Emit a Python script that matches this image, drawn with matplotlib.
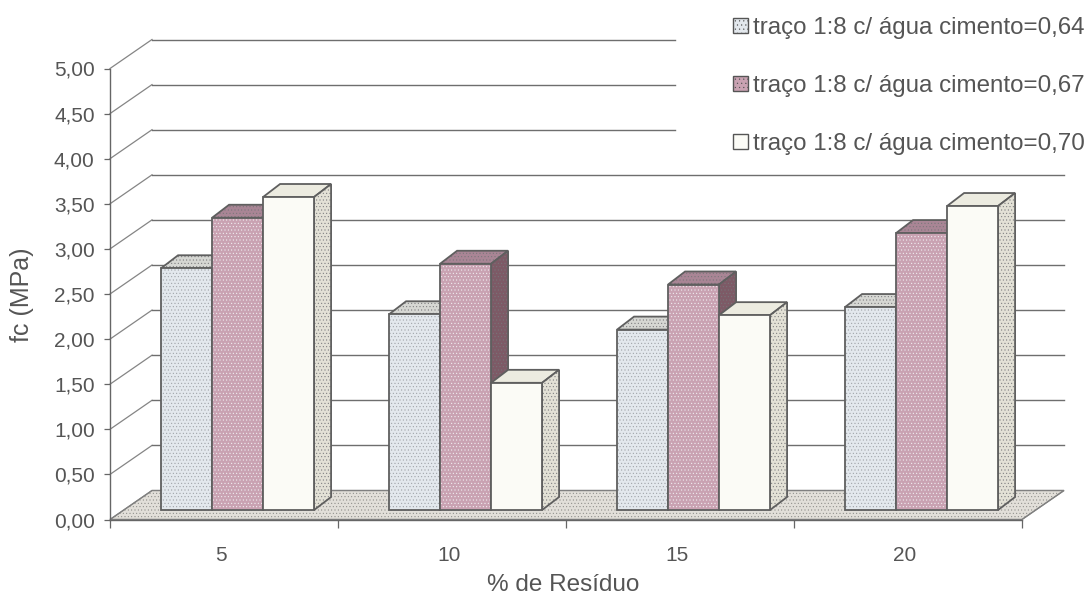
import matplotlib.pyplot as plt
from matplotlib.patches import Polygon, Patch

plt.rcParams['font.family'] = ['Liberation Sans', 'DejaVu Sans']
plt.rcParams['hatch.linewidth'] = 0.35

# % de residuo e resistencia (MPa) por traco
residuo = ['5', '10', '15', '20']
fc_064 = [2.68, 2.17, 2.00, 2.25]
fc_067 = [3.24, 2.73, 2.50, 3.07]
fc_070 = [3.47, 1.41, 2.16, 3.37]
series = [fc_064, fc_067, fc_070]
legendas = ['traço 1:8 c/ água cimento=0,64',
            'traço 1:8 c/ água cimento=0,67',
            'traço 1:8 c/ água cimento=0,70']
yticks = [0, 0.5, 1, 1.5, 2, 2.5, 3, 3.5, 4, 4.5, 5]
ylabels = ['0,00', '0,50', '1,00', '1,50', '2,00', '2,50', '3,00', '3,50', '4,00', '4,50', '5,00']

# cores de cada serie: frente, topo, lateral
frente = ['#e3e8ed', '#c9a2b2', '#fbfbf6']
topo = ['#d6d7d3', '#a98595', '#ecebe0']
lado = ['#d9dad6', '#7d5a66', '#e3e1d6']
cinza = '#666666'

# profundidade do efeito 3D, em unidades dos eixos
parede_x, parede_y = 42 / 228, 29 / 90.2
barra_x, barra_y = 17 / 228, 13 / 90.2
base_y = 9.5 / 90.2
inicio = 0.224
largura = 0.2237

fig = plt.figure(figsize=(10.92, 5.98), dpi=100, facecolor='white')
ax = fig.add_axes([110 / 1092, 1 - 519.5 / 598, 912 / 1092, 451 / 598])
ax.set_xlim(0, 4)
ax.set_ylim(0, 5)
ax.patch.set_visible(False)


def poligono(pts, cor, z, hatch=None, cor_hatch='#77777a'):
    # preenchimento pontilhado por baixo e contorno por cima
    ax.add_patch(Polygon(pts, closed=True, facecolor=cor, edgecolor=cor_hatch, hatch=hatch,
                         linewidth=0, zorder=z, clip_on=False))
    ax.add_patch(Polygon(pts, closed=True, facecolor='none', edgecolor='#5f5f5f',
                         linewidth=1.3, zorder=z, clip_on=False))


# piso
ax.add_patch(Polygon([(0, 0), (parede_x, parede_y), (4 + parede_x, parede_y), (4, 0)], closed=True,
                     facecolor='#e2dfd9', edgecolor='#8a8a86', hatch='.....', linewidth=0.8,
                     zorder=1, clip_on=False))
ax.add_patch(Polygon([(0, 0), (parede_x, parede_y), (4 + parede_x, parede_y), (4, 0)], closed=True,
                     facecolor='none', edgecolor='#808080', linewidth=1.0, zorder=1.1, clip_on=False))

# linhas de grade nas paredes (as de cima param antes da legenda)
for v in yticks[1:]:
    fim = 2.48 if v >= 4 else 4 + parede_x
    ax.plot([0, parede_x], [v, v + parede_y], color='#858585', lw=0.9, zorder=1, clip_on=False)
    ax.plot([parede_x, fim], [v + parede_y, v + parede_y], color='#6e6e6e', lw=1.0, zorder=1, clip_on=False)

# barras desenhadas da esquerda para a direita
for i in range(len(residuo)):
    for s, valores in enumerate(series):
        x0 = i + inicio + s * largura
        x1 = x0 + largura
        y0 = base_y
        y1 = valores[i] + base_y
        z = 2 + i + s * 0.1
        h = None if s == 2 else '.....'
        poligono([(x0, y1), (x1, y1), (x1 + barra_x, y1 + barra_y), (x0 + barra_x, y1 + barra_y)], topo[s], z, h)
        poligono([(x1, y0), (x1 + barra_x, y0 + barra_y), (x1 + barra_x, y1 + barra_y), (x1, y1)], lado[s], z, '.....')
        poligono([(x0, y0), (x1, y0), (x1, y1), (x0, y1)], frente[s], z, h,
                 '#f4f4f6' if s == 1 else '#9a9ea3')

for lado_eixo in ['top', 'right']:
    ax.spines[lado_eixo].set_visible(False)
for lado_eixo in ['left', 'bottom']:
    ax.spines[lado_eixo].set_color(cinza)
    ax.spines[lado_eixo].set_linewidth(1.0)

ax.set_yticks(yticks)
ax.set_yticklabels(ylabels, fontsize=15, color='#555555')
ax.tick_params(axis='y', length=4, width=0.9, color=cinza, pad=7)
ax.set_xticks(range(5))
ax.set_xticklabels([])
ax.tick_params(axis='x', which='major', length=6, width=0.9, color=cinza)
ax.set_xticks([i + 0.485 for i in range(4)], minor=True)
ax.set_xticklabels(residuo, minor=True, fontsize=15, color='#555555')
ax.tick_params(axis='x', which='minor', length=0, pad=19)

fig.text(22 / 1092, 1 - 295 / 598, 'fc (MPa)', rotation=90, ha='center', va='center',
         fontsize=18, color='#555555')
fig.text(563 / 1092, 1 - 585 / 598, '% de Resíduo', ha='center', va='center',
         fontsize=17.5, color='#555555')

handles = [Patch(facecolor=c, edgecolor='#555555', linewidth=1.0, hatch=h)
           for c, h in zip(frente, ['....', '....', None])]
fig.legend(handles, legendas, loc='upper left', bbox_to_anchor=(733 / 1092, 1 - 17 / 598),
           frameon=False, fontsize=17.4, labelcolor='#555555', handlelength=0.62, handleheight=0.62,
           handletextpad=0.2, labelspacing=1.49, borderpad=0, borderaxespad=0)

plt.savefig('out.png', dpi=100)
